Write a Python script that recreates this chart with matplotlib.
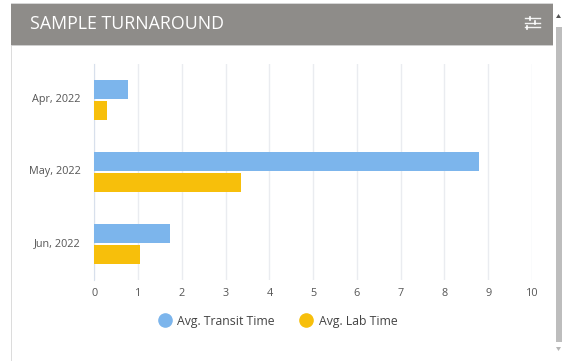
import matplotlib
matplotlib.use("Agg")
import matplotlib.pyplot as plt
from matplotlib.lines import Line2D
from matplotlib.patches import Rectangle, Polygon
from matplotlib.transforms import ScaledTranslation
import numpy as np

W, H = 562, 361

months = ["Apr, 2022", "May, 2022", "Jun, 2022"]
transit_time = [0.78, 8.8, 1.73]
lab_time = [0.3, 3.35, 1.04]
x_ticks = list(range(0, 11))

BLUE = "#7cb5ec"
YELLOW = "#f7bf0b"
HEADER = "#8e8c89"
GRID = "#eaecf0"
TEXT = "#555555"

plt.rcParams["font.family"] = ["Open Sans", "DejaVu Sans"]


def fx(px):
    return px / W


def fy(py):
    return 1 - py / H


def frect(fig, x0, y0, x1, y1, color):
    fig.add_artist(Rectangle((fx(x0), fy(y1)), (x1 - x0) / W, (y1 - y0) / H,
                             transform=fig.transFigure, color=color, lw=0))


fig = plt.figure(figsize=(W / 100, H / 100), dpi=100)

# panel frame and header
frect(fig, 10.5, 3, 11.5, H, "#dcdcdc")
frect(fig, 11, 3, 553, 4.5, "#d6d6d6")
frect(fig, 11, 4, 553, 44.5, HEADER)
frect(fig, 11, 44.5, 553, 45.5, "#cfcfcf")
fig.text(fx(30), fy(24), "SAMPLE TURNAROUND", color="white", fontsize=12.8, va="center", ha="left")

# filter icon in the header
for y, knob in [(18, 530), (22.5, 535), (27, 527)]:
    fig.add_artist(Line2D([fx(524.5), fx(539.5)], [fy(y), fy(y)], color="white", lw=1.0, alpha=0.9))
    fig.add_artist(Line2D([fx(knob), fx(knob)], [fy(y - 1.5), fy(y + 1.5)], color="white", lw=1.2))

# scrollbar
frect(fig, 555.5, 27, 562, 342, "#bdbdbd")
fig.add_artist(Polygon([[fx(556), fy(18)], [fx(561), fy(18)], [fx(558.5), fy(14)]],
                       transform=fig.transFigure, color="#555555", lw=0))
fig.add_artist(Polygon([[fx(556), fy(347)], [fx(561), fy(347)], [fx(558.5), fy(351)]],
                       transform=fig.transFigure, color="#b5b5b5", lw=0))

# chart
ax = fig.add_axes([fx(94.3), fy(280), (532 - 94.3) / W, (280 - 64) / H])
y = np.arange(len(months))
bar_h = 0.265
ax.barh(y - 0.142, transit_time, height=bar_h, color=BLUE, zorder=3)
ax.barh(y + 0.142, lab_time, height=bar_h, color=YELLOW, zorder=3)

ax.set_xlim(0, 10)
ax.set_ylim(2.5, -0.5)
ax.set_xticks(x_ticks)
ax.set_yticks(y, months)
ax.grid(axis="x", color=GRID, lw=1, zorder=0)
for side in ["top", "right", "bottom"]:
    ax.spines[side].set_visible(False)
ax.spines["left"].set_color("#d8e0ec")
ax.tick_params(axis="both", length=0, labelsize=7.8, labelcolor=TEXT)
ax.tick_params(axis="x", pad=6)
ax.tick_params(axis="y", pad=10)

# month labels sit a little above the bar centres
for label in ax.get_yticklabels():
    label.set_transform(label.get_transform() + ScaledTranslation(0, 2 / 100, fig.dpi_scale_trans))

handles = [
    Line2D([], [], ls="", marker="o", ms=9.5, color=BLUE),
    Line2D([], [], ls="", marker="o", ms=9.5, color=YELLOW),
]
fig.legend(handles, ["Avg. Transit Time", "Avg. Lab Time"], loc="center",
           bbox_to_anchor=(fx(278), fy(321)), ncol=2, frameon=False,
           fontsize=8.8, labelcolor="#444444", handlelength=1, handletextpad=0.53, columnspacing=2.05)

fig.savefig("out.png", dpi=100)
plt.close(fig)
